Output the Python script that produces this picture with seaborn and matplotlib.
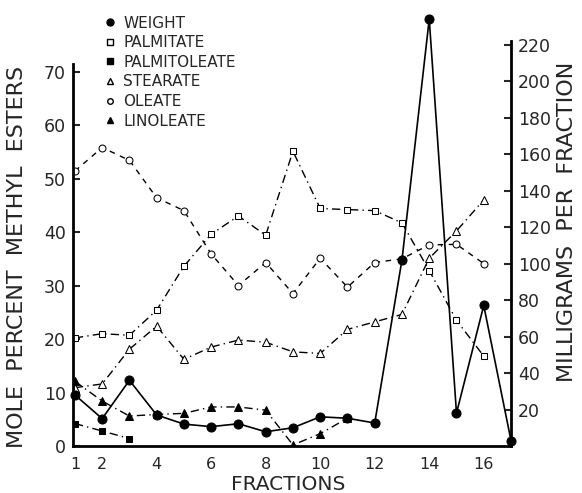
import numpy as np
import pandas as pd
import matplotlib
matplotlib.use("Agg")
import matplotlib.pyplot as plt
from matplotlib.lines import Line2D
import seaborn as sns

# values
fractions = list(range(1, 18))
weight = [28, 15, 36, 17, 12, 10.6, 12.2, 7.8, 10, 16, 15.2, 12.6, 102, 234, 18, 77, 3]
palmitate = [20.2, 21.0, 20.7, 25.4, 33.6, 39.6, 43.0, 39.4, 55.1, 44.4, 44.2, 44.0, 41.7, 32.8, 23.5, 16.8]
palmitoleate = [4.2, 2.8, 1.4]
stearate = [10.9, 11.6, 18.1, 22.4, 16.2, 18.5, 19.8, 19.4, 17.6, 17.3, 21.8, 23.2, 24.6, 35.1, 40.2, 46.0]
oleate = [51.4, 55.8, 53.4, 46.4, 44.0, 35.9, 30.0, 34.3, 28.5, 35.1, 29.7, 34.3, 35.0, 37.6, 37.7, 34.1]
linoleate = [12.1, 8.4, 5.6, 5.9, 6.1, 7.3, 7.3, 6.7, 0.2, 2.3, 5.2]

sns.set_style("white")
plt.rcParams['font.family'] = ['DejaVu Sans']

fig = plt.figure(figsize=(5.82, 4.93), dpi=100)
ax = fig.add_axes([73 / 582, 1 - 446 / 493, 438 / 582, 406 / 493])
ax2 = ax.twinx()

def series(vals):
    return pd.DataFrame({"x": fractions[:len(vals)], "y": vals})

lw = 1.0
ms = 5
dashdot = (0, (6, 3, 1, 3))
sns.lineplot(data=series(palmitate), x="x", y="y", ax=ax, color="black", lw=lw,
             marker="s", markersize=ms, markerfacecolor="white", markeredgecolor="black",
             linestyle=dashdot)
sns.lineplot(data=series(palmitoleate), x="x", y="y", ax=ax, color="black", lw=lw,
             marker="s", markersize=ms, markerfacecolor="black", markeredgecolor="black",
             linestyle=dashdot)
sns.lineplot(data=series(stearate), x="x", y="y", ax=ax, color="black", lw=lw,
             marker="^", markersize=ms + 1, markerfacecolor="white", markeredgecolor="black",
             linestyle=dashdot)
sns.lineplot(data=series(oleate), x="x", y="y", ax=ax, color="black", lw=lw,
             marker="o", markersize=ms, markerfacecolor="white", markeredgecolor="black",
             linestyle=(0, (4, 4)))
sns.lineplot(data=series(linoleate), x="x", y="y", ax=ax, color="black", lw=lw,
             marker="^", markersize=ms + 1, markerfacecolor="black", markeredgecolor="black",
             linestyle=dashdot)
sns.lineplot(data=series(weight), x="x", y="y", ax=ax2, color="black", lw=1.2,
             marker="o", markersize=ms + 1.5, markerfacecolor="black", markeredgecolor="black",
             clip_on=False)

ax.set_xlim(0.93, 17)
ax.set_ylim(0, 75.9)
ax2.set_ylim(0, 222.5)

ax.set_xticks([1, 2, 4, 6, 8, 10, 12, 14, 16])
ax.set_yticks(range(0, 71, 10))
ax2.set_yticks(range(20, 221, 20))
ax.tick_params(axis="y", direction="in", length=5, width=1.5, labelsize=12.5, pad=5)
ax.tick_params(axis="x", length=0, labelsize=11.5, pad=8)
ax2.tick_params(axis="y", direction="in", length=5, width=1.5, labelsize=12.5, pad=5)

for a in (ax, ax2):
    a.spines["top"].set_visible(False)
    for s in ("left", "right", "bottom"):
        a.spines[s].set_linewidth(2)
        a.spines[s].set_color("black")
ax.spines["right"].set_visible(False)
ax2.spines["left"].set_visible(False)
ax2.spines["bottom"].set_visible(False)
ax.spines["left"].set_bounds(0, 71.5)
ax2.spines["right"].set_bounds(0, 222)

ax.set_xlabel("")
ax.set_ylabel("")
ax2.set_ylabel("")
fig.text(17 / 582, 1 - 257 / 493, "MOLE  PERCENT  METHYL  ESTERS", rotation=90,
         ha="center", va="center", fontsize=16)
fig.text(567 / 582, 1 - 222 / 493, "MILLIGRAMS  PER  FRACTION", rotation=90,
         ha="center", va="center", fontsize=16)
fig.text(288 / 582, 1 - 485 / 493, "FRACTIONS", ha="center", va="center", fontsize=14.5)

handles = [
    Line2D([], [], ls="none", marker="o", ms=5, mfc="black", mec="black"),
    Line2D([], [], ls="none", marker="s", ms=4, mfc="white", mec="black"),
    Line2D([], [], ls="none", marker="s", ms=4, mfc="black", mec="black"),
    Line2D([], [], ls="none", marker="^", ms=4, mfc="white", mec="black"),
    Line2D([], [], ls="none", marker="o", ms=4, mfc="white", mec="black"),
    Line2D([], [], ls="none", marker="^", ms=4, mfc="black", mec="black"),
]
labels = ["WEIGHT", "PALMITATE", "PALMITOLEATE", "STEARATE", "OLEATE", "LINOLEATE"]
fig.legend(handles, labels, loc="upper left", bbox_to_anchor=(96 / 582, 1 - 8 / 493),
           frameon=False, fontsize=11, handlelength=0.8, handletextpad=0.5,
           labelspacing=0.3, borderpad=0)

fig.savefig("out.png", dpi=100)
